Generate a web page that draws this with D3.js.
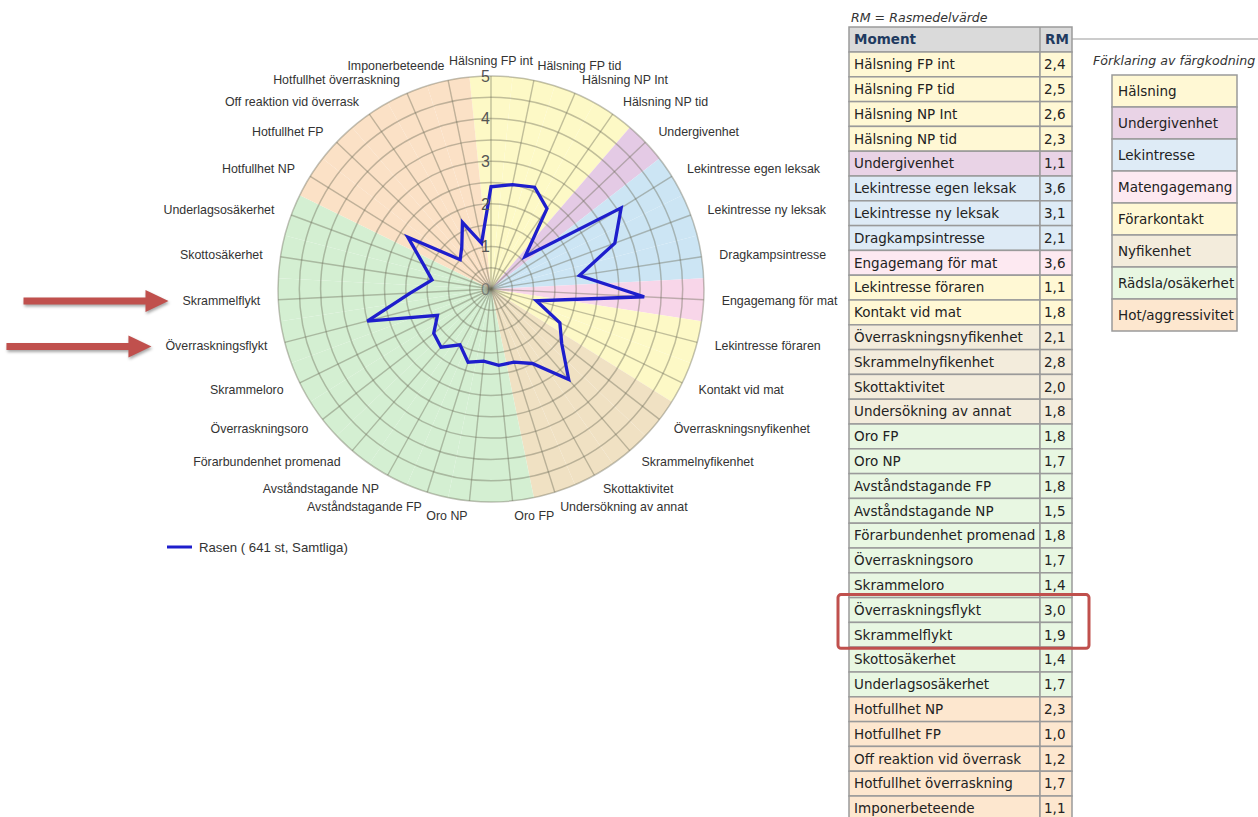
<!DOCTYPE html>
<html lang="sv">
<head>
    <meta charset="UTF-8">
    <title>Rasen - mentalbeskrivning</title>
    <script src="https://d3js.org/d3.v7.min.js"></script>
    <style>
        body {
            margin: 0;
            background-color: #fff;
        }
        svg text {
            fill: #333;
        }
        .axis-label {
            font-family: "Liberation Sans", Arial, sans-serif;
            font-size: 12.4px;
            fill: #333;
        }
        .tick-label {
            font-family: "Liberation Sans", Arial, sans-serif;
            font-size: 16px;
            fill: #555;
        }
        .tbl {
            font-family: "DejaVu Sans", Verdana, sans-serif;
            font-size: 13.5px;
            fill: #222;
        }
        .tbl-head {
            font-family: "DejaVu Sans", Verdana, sans-serif;
            font-size: 13.5px;
            font-weight: bold;
            fill: #1f3a60;
        }
        .note {
            font-family: "DejaVu Sans", Verdana, sans-serif;
            font-size: 12.6px;
            font-style: italic;
            fill: #333;
        }
    </style>
</head>
<body>
<div id="chart"></div>
<script>
    // moment (axes), in order clockwise from the top
    const moments = [
        'Hälsning FP int', 'Hälsning FP tid', 'Hälsning NP Int', 'Hälsning NP tid',
        'Undergivenhet',
        'Lekintresse egen leksak', 'Lekintresse ny leksak', 'Dragkampsintresse',
        'Engagemang för mat',
        'Lekintresse föraren', 'Kontakt vid mat',
        'Överraskningsnyfikenhet', 'Skrammelnyfikenhet', 'Skottaktivitet', 'Undersökning av annat',
        'Oro FP', 'Oro NP', 'Avståndstagande FP', 'Avståndstagande NP', 'Förarbundenhet promenad',
        'Överraskningsoro', 'Skrammeloro', 'Överraskningsflykt', 'Skrammelflykt', 'Skottosäkerhet',
        'Underlagsosäkerhet',
        'Hotfullhet NP', 'Hotfullhet FP', 'Off reaktion vid överrask', 'Hotfullhet överraskning',
        'Imponerbeteende'
    ];

    // group index for each moment
    const momentGroup = [0, 0, 0, 0, 1, 2, 2, 2, 3, 4, 4, 5, 5, 5, 5,
        6, 6, 6, 6, 6, 6, 6, 6, 6, 6, 6, 7, 7, 7, 7, 7];

    // RM = Rasmedelvärde
    const rmValues = [2.4, 2.5, 2.6, 2.3, 1.1, 3.6, 3.1, 2.1, 3.6, 1.1, 1.8,
        2.1, 2.8, 2.0, 1.8, 1.8, 1.7, 1.8, 1.5, 1.8, 1.7, 1.4, 3.0, 1.9, 1.4, 1.7,
        2.3, 1.0, 1.2, 1.7, 1.1];

    const groups = ['Hälsning', 'Undergivenhet', 'Lekintresse', 'Matengagemang',
        'Förarkontakt', 'Nyfikenhet', 'Rädsla/osäkerhet', 'Hot/aggressivitet'];
    const groupFill = ['#fdf9c6', '#e4cae5', '#cce5f4', '#f8d6e9', '#fdf9c6', '#f0e1c3', '#d4efd2', '#fbe1c6'];
    const tableFill = ['#fff8d4', '#e9d3e6', '#deebf6', '#fde9f1', '#fff8d4', '#f3ecdc', '#e8f7e2', '#fde7cf'];

    const radialTicks = [0, 1, 2, 3, 4, 5];
    const highlighted = ['Överraskningsflykt', 'Skrammelflykt'];
    const seriesName = 'Rasen ( 641 st, Samtliga)';

    const W = 1258, H = 817;
    const cx = 491, cy = 289, R = 213;
    const n = moments.length;

    const svg = d3.select('#chart').append('svg')
        .attr('width', W)
        .attr('height', H);

    const angle = d3.scaleLinear().domain([0, n]).range([0, 2 * Math.PI]);
    const radius = d3.scaleLinear().domain([0, 5]).range([0, R]);

    const g = svg.append('g').attr('transform', `translate(${cx},${cy})`);

    // colored sectors
    const arc = d3.arc().innerRadius(0).outerRadius(R);
    g.selectAll('.sector')
        .data(moments)
        .enter()
        .append('path')
        .attr('class', 'sector')
        .attr('d', (d, i) => arc({startAngle: angle(i - 0.5), endAngle: angle(i + 0.5)}))
        .attr('fill', (d, i) => groupFill[momentGroup[i]]);

    // grid rings every half unit
    g.selectAll('.ring')
        .data(d3.range(0.5, 5.01, 0.5))
        .enter()
        .append('circle')
        .attr('r', d => radius(d))
        .attr('fill', 'none')
        .attr('stroke', 'rgba(110,110,90,0.42)')
        .attr('stroke-width', 1.5);

    // spokes
    g.selectAll('.spoke')
        .data(moments)
        .enter()
        .append('line')
        .attr('x1', 0).attr('y1', 0)
        .attr('x2', (d, i) => Math.sin(angle(i)) * R)
        .attr('y2', (d, i) => -Math.cos(angle(i)) * R)
        .attr('stroke', 'rgba(110,110,90,0.42)')
        .attr('stroke-width', 1.4);

    // series line
    const line = d3.lineRadial()
        .angle((d, i) => angle(i))
        .radius(d => radius(d))
        .curve(d3.curveLinearClosed);

    g.append('path')
        .datum(rmValues)
        .attr('d', line)
        .attr('fill', 'none')
        .attr('stroke', '#1e1ecc')
        .attr('stroke-width', 3.3)
        .attr('stroke-linejoin', 'miter');

    // radial tick labels
    g.selectAll('.tick-label')
        .data(radialTicks)
        .enter()
        .append('text')
        .attr('class', 'tick-label')
        .attr('x', -1)
        .attr('y', d => -radius(d))
        .attr('dy', '0.36em')
        .attr('text-anchor', 'end')
        .attr('fill-opacity', d => d === 0 ? 0.6 : 1)
        .text(d => d);

    // axis labels
    const labelR = 231;
    const labels = g.selectAll('.axis-label')
        .data(moments)
        .enter()
        .append('text')
        .attr('class', 'axis-label')
        .attr('x', (d, i) => Math.sin(angle(i)) * labelR)
        .attr('y', (d, i) => -Math.cos(angle(i)) * (labelR - 3))
        .attr('dy', '0.35em')
        .attr('text-anchor', (d, i) => {
            const s = Math.sin(angle(i));
            if (Math.abs(s) < 0.05) return 'middle';
            return s > 0 ? 'start' : 'end';
        })
        .text(d => d);

    // legend for series
    const lg = svg.append('g').attr('transform', 'translate(167,547)');
    lg.append('line')
        .attr('x1', 0).attr('x2', 25)
        .attr('stroke', '#1e1ecc')
        .attr('stroke-width', 3);
    lg.append('text')
        .attr('x', 32)
        .attr('dy', '0.35em')
        .attr('class', 'axis-label')
        .style('font-size', '13.2px')
        .text(seriesName);

    // red arrows pointing at the highlighted axis labels
    labels.filter(d => highlighted.includes(d)).each(function () {
        const b = this.getBBox();
        const tipX = cx + b.x - 14;
        const y = cy + b.y + b.height / 2;
        const len = 145;
        svg.append('path')
            .attr('d', `M${tipX - len},${y - 3.5} L${tipX - 23},${y - 3.5} L${tipX - 23},${y - 11}
                L${tipX},${y} L${tipX - 23},${y + 11} L${tipX - 23},${y + 3.5} L${tipX - len},${y + 3.5} Z`)
            .attr('fill', '#c0504d')
            .style('filter', 'drop-shadow(1px 2px 1.5px rgba(0,0,0,0.35))');
    });

    // table of values
    const tx0 = 849, tx1 = 1040, tx2 = 1072;
    const headTop = 27, headH = 25;
    const rows = d3.scaleBand()
        .domain(d3.range(n))
        .range([headTop + headH, headTop + headH + n * 24.8]);

    svg.append('text')
        .attr('class', 'note')
        .attr('x', tx0 + 2)
        .attr('y', 22)
        .text('RM = Rasmedelvärde');

    svg.append('line')
        .attr('x1', tx2).attr('x2', W)
        .attr('y1', headTop + 12).attr('y2', headTop + 12)
        .attr('stroke', '#999')
        .attr('stroke-width', 1);

    const head = svg.append('g');
    head.append('rect')
        .attr('x', tx0).attr('y', headTop)
        .attr('width', tx2 - tx0).attr('height', headH)
        .attr('fill', '#dadada')
        .attr('stroke', '#9a9a9a')
        .attr('stroke-width', 1.5);
    head.append('line')
        .attr('x1', tx1).attr('x2', tx1)
        .attr('y1', headTop).attr('y2', headTop + headH)
        .attr('stroke', '#9a9a9a').attr('stroke-width', 1.5);
    head.append('text').attr('class', 'tbl-head')
        .attr('x', tx0 + 5).attr('y', headTop + headH / 2).attr('dy', '0.36em')
        .text('Moment');
    head.append('text').attr('class', 'tbl-head')
        .attr('x', tx1 + 5).attr('y', headTop + headH / 2).attr('dy', '0.36em')
        .text('RM');

    const fmt = v => d3.format('.1f')(v).replace('.', ',');

    const row = svg.selectAll('.row')
        .data(moments)
        .enter()
        .append('g')
        .attr('class', 'row')
        .attr('transform', (d, i) => `translate(0,${rows(i)})`);

    row.append('rect')
        .attr('x', tx0).attr('width', tx1 - tx0)
        .attr('height', rows.bandwidth())
        .attr('fill', (d, i) => tableFill[momentGroup[i]])
        .attr('stroke', '#9a9a9a').attr('stroke-width', 1.5);
    row.append('rect')
        .attr('x', tx1).attr('width', tx2 - tx1)
        .attr('height', rows.bandwidth())
        .attr('fill', (d, i) => tableFill[momentGroup[i]])
        .attr('stroke', '#9a9a9a').attr('stroke-width', 1.5);
    row.append('text').attr('class', 'tbl')
        .attr('x', tx0 + 5).attr('y', rows.bandwidth() / 2).attr('dy', '0.36em')
        .text(d => d);
    row.append('text').attr('class', 'tbl')
        .attr('x', tx1 + 4).attr('y', rows.bandwidth() / 2).attr('dy', '0.36em')
        .text((d, i) => fmt(rmValues[i]));

    // box around the highlighted rows
    const hi = highlighted.map(d => moments.indexOf(d));
    svg.append('rect')
        .attr('x', tx0 - 11)
        .attr('y', rows(d3.min(hi)) - 3)
        .attr('width', tx2 - tx0 + 28)
        .attr('height', rows(d3.max(hi)) + rows.bandwidth() - rows(d3.min(hi)) + 4)
        .attr('rx', 3)
        .attr('fill', 'none')
        .attr('stroke', '#c0504d')
        .attr('stroke-width', 3);

    // color key
    const kx = 1112, kw = 125, ky = 75, kh = 32;
    svg.append('text')
        .attr('class', 'note')
        .attr('x', 1093).attr('y', 65)
        .text('Förklaring av färgkodning');

    const key = svg.selectAll('.key')
        .data(groups)
        .enter()
        .append('g')
        .attr('transform', (d, i) => `translate(${kx},${ky + i * kh})`);
    key.append('rect')
        .attr('width', kw).attr('height', kh)
        .attr('fill', (d, i) => tableFill[i])
        .attr('stroke', '#9a9a9a').attr('stroke-width', 1.5);
    key.append('text').attr('class', 'tbl')
        .attr('x', 6).attr('y', kh / 2).attr('dy', '0.36em')
        .text(d => d);
</script>
</body>
</html>
